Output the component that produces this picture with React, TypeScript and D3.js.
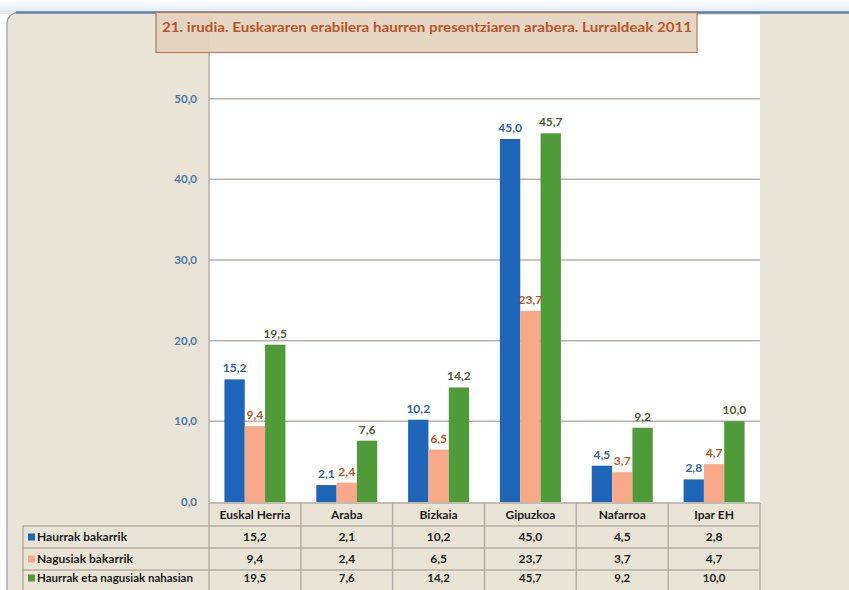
import React from "react";
import * as d3 from "d3";

const categories = ["Euskal Herria", "Araba", "Bizkaia", "Gipuzkoa", "Nafarroa", "Ipar EH"];
const haurrakBakarrik = [15.2, 2.1, 10.2, 45.0, 4.5, 2.8];
const nagusiakBakarrik = [9.4, 2.4, 6.5, 23.7, 3.7, 4.7];
const nahasian = [19.5, 7.6, 14.2, 45.7, 9.2, 10.0];
const seriesNames = ["Haurrak bakarrik", "Nagusiak bakarrik", "Haurrak eta nagusiak nahasian"];
const yTicks = [0, 10, 20, 30, 40, 50];
const title = "21. irudia. Euskararen erabilera haurren presentziaren arabera. Lurraldeak 2011";

const seriesValues = [haurrakBakarrik, nagusiakBakarrik, nahasian];
const barColors = ["#1f66b9", "#f8a98a", "#4f9a39"];
const labelColors = ["#33649f", "#b5551f", "#4f5d2c"];

const W = 849;
const H = 590;
const plotLeft = 209;
const plotRight = 760;
const plotTop = 18;
const plotBottom = 502;
const tableLeft = 23;
const rowYs = [503, 526, 548, 570, 594];

const fmt = (v: number) => d3.format(".1f")(v).replace(".", ",");
const font = "Lato, 'Open Sans', sans-serif";

export default function App() {
  const x0 = d3.scaleBand<string>().domain(categories).range([plotLeft, plotRight]).paddingInner(0.336).paddingOuter(0.168);
  const x1 = d3.scaleBand<number>().domain([0, 1, 2]).range([0, x0.bandwidth()]).padding(0);
  const y = d3.scaleLinear().domain([0, 60]).range([plotBottom, plotTop]);
  const step = x0.step();
  const colEdges = categories.map((_, i) => plotLeft + i * step).concat([plotRight]);
  const rowCenter = (i: number) => (rowYs[i] + Math.min(rowYs[i + 1], 589)) / 2 + (i === 3 ? -1.5 : 0);

  return (
    <svg width={W} height={H} style={{ position: "absolute", left: 0, top: 0 }} fontFamily={font}>
      <defs>
        <linearGradient id="topEdge" x1="0" y1="0" x2="0" y2="1">
          <stop offset="0" stopColor="#ffffff" />
          <stop offset="1" stopColor="#dfe8f1" />
        </linearGradient>
      </defs>
      <rect x={0} y={0} width={W} height={H} fill="#ffffff" />
      <rect x={0} y={0} width={W} height={14} fill="url(#topEdge)" />
      {/* frame */}
      <rect x={7} y={12.5} width={W + 40} height={H + 40} rx={11} fill="#e9e4d6" stroke="#8aa0b6" strokeWidth={1.2} />
      <line x1={16} y1={12.5} x2={W} y2={12.5} stroke="#5a7fa5" strokeWidth={2.5} />
      {/* plot area */}
      <rect x={plotLeft} y={15} width={plotRight - plotLeft} height={plotBottom - 15} fill="#ffffff" />
      {/* gridlines */}
      {yTicks.slice(1).map((t) => (
        <line key={t} x1={plotLeft} x2={plotRight} y1={y(t)} y2={y(t)} stroke="#bcaea8" strokeWidth={1.5} />
      ))}
      <line x1={plotLeft} x2={plotLeft} y1={15} y2={plotBottom} stroke="#b9b1aa" strokeWidth={1.5} />
      {/* y tick labels */}
      {yTicks.map((t) => (
        <text key={t} x={197} y={y(t)} dy="0.35em" textAnchor="end" fontSize={11.5} fontWeight="bold" fill="#4a78aa">
          {fmt(t)}
        </text>
      ))}
      {/* bars */}
      {categories.map((c, ci) => (
        <g key={c} transform={`translate(${x0(c)},0)`}>
          {seriesValues.map((vals, si) => (
            <rect key={si} x={x1(si)} y={y(vals[ci])} width={x1.bandwidth()} height={y(0) - y(vals[ci])} fill={barColors[si]} />
          ))}
          {seriesValues.map((vals, si) => (
            <text
              key={"l" + si}
              x={(x1(si) as number) + x1.bandwidth() / 2}
              y={y(vals[ci]) - 7}
              textAnchor="middle"
              fontSize={12}
              fontWeight="bold"
              fill={labelColors[si]}
            >
              {fmt(vals[ci])}
            </text>
          ))}
        </g>
      ))}
      {/* table */}
      <g stroke="#b6aea6" strokeWidth={1.5}>
        <line x1={plotLeft} x2={plotRight} y1={rowYs[0]} y2={rowYs[0]} />
        {rowYs.slice(1).map((ry) => (
          <line key={ry} x1={tableLeft} x2={plotRight} y1={ry} y2={ry} />
        ))}
        <line x1={tableLeft} x2={tableLeft} y1={rowYs[1]} y2={H} />
        {colEdges.map((cx, i) => (
          <line key={i} x1={cx} x2={cx} y1={rowYs[0]} y2={H} />
        ))}
      </g>
      {categories.map((c) => (
        <text key={c} x={(x0(c) as number) + x0.bandwidth() / 2} y={rowCenter(0)} dy="0.35em" textAnchor="middle" fontSize={12} fontWeight="bold" fill="#1c1c1c">
          {c}
        </text>
      ))}
      {seriesNames.map((name, si) => {
        const cy = rowCenter(si + 1);
        const fs = si === 2 ? 11.5 : 12;
        return (
          <g key={name}>
            <rect x={28} y={cy - 3.5} width={7} height={7} fill={barColors[si]} />
            <text x={37} y={cy} dy="0.35em" fontSize={fs} fontWeight="bold" fill="#1c1c1c">
              {name}
            </text>
            {categories.map((c, ci) => (
              <text key={c} x={(x0(c) as number) + x0.bandwidth() / 2} y={cy} dy="0.35em" textAnchor="middle" fontSize={fs} fontWeight="bold" fill="#1c1c1c">
                {fmt(seriesValues[si][ci])}
              </text>
            ))}
          </g>
        );
      })}
      {/* title */}
      <rect x={156} y={12.5} width={541} height={40} fill="#e4d2bf" fillOpacity={0.92} stroke="#c07a55" strokeWidth={1.2} />
      <text x={162} y={27} dy="0.35em" fontSize={13.5} fontWeight="bold" fill="#b9562a" textLength={530} lengthAdjust="spacingAndGlyphs">
        {title}
      </text>
    </svg>
  );
}
